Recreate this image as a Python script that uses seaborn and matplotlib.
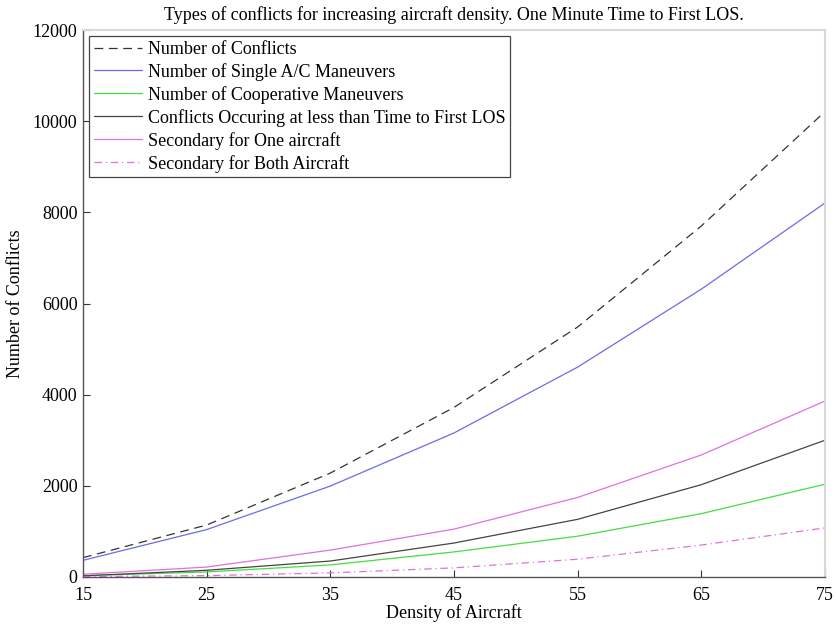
import matplotlib
matplotlib.use("Agg")
import matplotlib.pyplot as plt
import seaborn as sns
import pandas as pd

density = [15, 25, 35, 45, 55, 65, 75]
num_conflicts = [424, 1140, 2280, 3720, 5485, 7700, 10210]
single_ac = [365, 1040, 1995, 3160, 4605, 6315, 8205]
cooperative = [30, 110, 265, 550, 895, 1390, 2035]
occurring_less = [25, 147, 350, 745, 1265, 2025, 3000]
secondary_one = [60, 218, 590, 1050, 1745, 2677, 3860]
secondary_both = [10, 30, 90, 200, 390, 700, 1077]

labels = [
    "Number of Conflicts",
    "Number of Single A/C Maneuvers",
    "Number of Cooperative Maneuvers",
    "Conflicts Occuring at less than Time to First LOS",
    "Secondary for One aircraft",
    "Secondary for Both Aircraft",
]
series = [num_conflicts, single_ac, cooperative, occurring_less, secondary_one, secondary_both]
colors = ["#333333", "#6b6bea", "#44dd44", "#444444", "#e070e0", "#e070e0"]
styles = [(0, (7, 4.5)), "-", "-", "-", "-", (0, (6, 3, 1, 3))]

sns.set_style("white")
plt.rcParams["font.family"] = ["Liberation Serif", "DejaVu Serif"]
plt.rcParams["text.color"] = "black"
plt.rcParams["axes.labelcolor"] = "black"
plt.rcParams["xtick.color"] = "black"
plt.rcParams["ytick.color"] = "black"

fig = plt.figure(figsize=(8.36, 6.26), dpi=100)
ax = fig.add_axes([0.0993, 0.0783, 0.8875, 0.8737])

for lab, vals, col, ls in zip(labels, series, colors, styles):
    df = pd.DataFrame({"Density": density, "Count": vals})
    sns.lineplot(data=df, x="Density", y="Count", ax=ax, color=col,
                 linestyle=ls, linewidth=0.9, label=lab)

ax.set_xlim(15, 75)
ax.set_ylim(0, 12000)
ax.set_xticks(density)
ax.set_yticks(range(0, 12001, 2000))
ax.tick_params(axis="both", direction="in", length=5, width=0.8,
               bottom=True, left=True, top=False, right=False,
               color="#333333", labelcolor="black", labelsize=13)
ax.tick_params(axis="x", pad=7)
ax.tick_params(axis="y", pad=4)
ax.set_xlabel("Density of Aircraft", fontsize=13, labelpad=0, color="black")
ax.set_ylabel("Number of Conflicts", fontsize=13, labelpad=6, color="black")
ax.set_title("Types of conflicts for increasing aircraft density. One Minute Time to First LOS.",
             fontsize=13, pad=7, color="black")

for side in ["left", "bottom"]:
    ax.spines[side].set_color("#555555")
    ax.spines[side].set_linewidth(1.0)
for side in ["top", "right"]:
    ax.spines[side].set_color("#d8d8d8")
    ax.spines[side].set_linewidth(1.5)

leg = ax.legend(loc="upper left", fontsize=13, frameon=True, fancybox=False,
                edgecolor="#444444", framealpha=1, handlelength=2.65,
                handletextpad=0.35, labelspacing=0.28, borderpad=0.25,
                borderaxespad=0.35)
leg.get_frame().set_linewidth(0.9)
for t in leg.get_texts():
    t.set_color("black")

fig.savefig("out.png", dpi=100)
